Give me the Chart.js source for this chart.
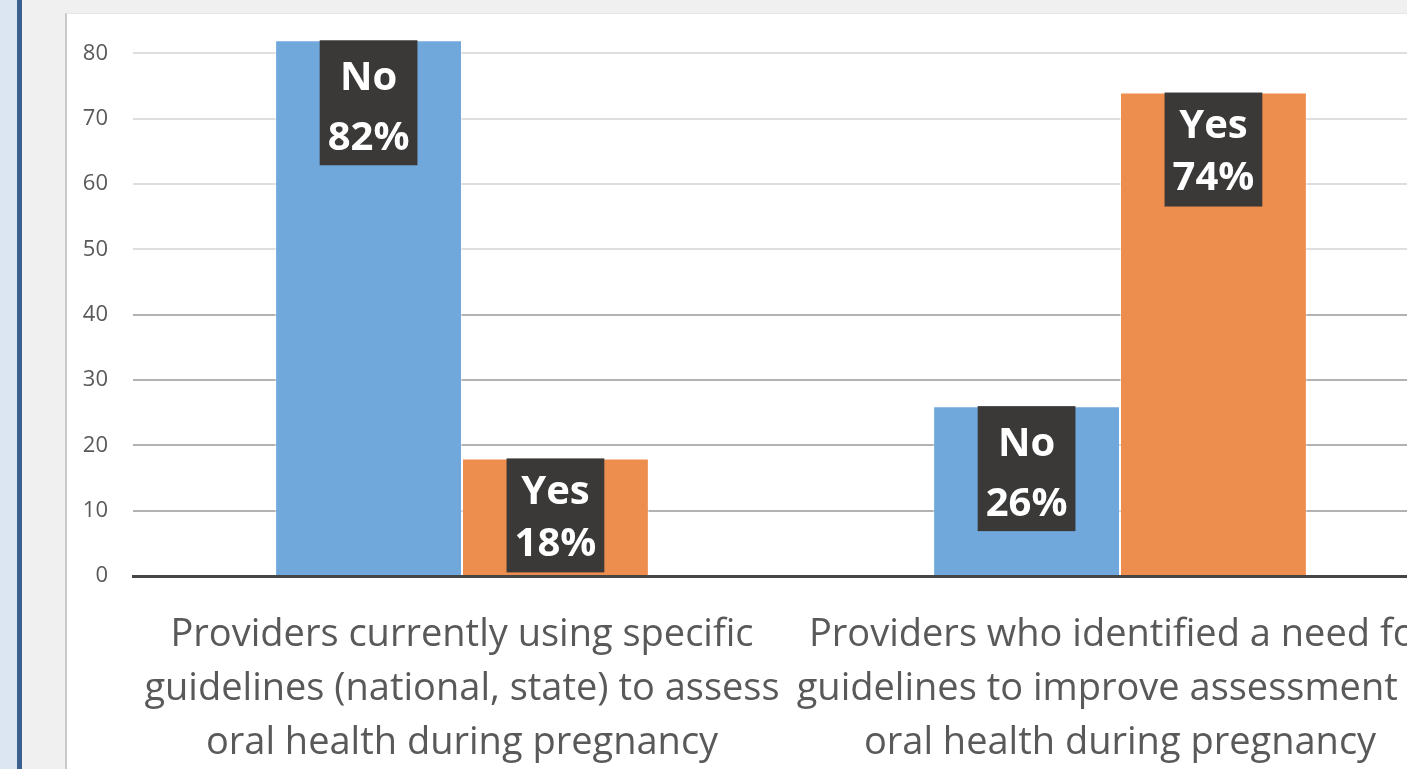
<!DOCTYPE html>
<html>
<head>
<meta charset="utf-8">
<script src="https://cdn.jsdelivr.net/npm/chart.js@4/dist/chart.umd.min.js"></script>
<style>
  html, body { margin: 0; padding: 0; width: 1407px; height: 769px; overflow: hidden; background: #f0f0f0; }
  #strip { position: absolute; left: 0; top: 0; width: 17px; height: 769px; background: #dce6f2; }
  #rule { position: absolute; left: 17px; top: 0; width: 5px; height: 769px; background: #3c5f92; }
  #frame { position: absolute; left: 65px; top: 13px; width: 1400px; height: 800px; background: #fff; border-left: 2px solid #c9c9c9; border-top: 1px solid #e6e6e6; overflow: hidden; }
  #wrap { position: absolute; left: 0; top: -54px; width: 1400px; height: 820px; }
</style>
</head>
<body>
<div id="strip"></div>
<div id="rule"></div>
<div id="frame">
  <div id="wrap"><canvas id="canvas1" width="1400" height="820"></canvas></div>
</div>
<script>
var categories = [
  ["Providers currently using specific", "guidelines (national, state) to assess", "oral health during pregnancy"],
  ["Providers who identified a need for", "guidelines to improve assessment of", "oral health during pregnancy"]
];
var seriesNames = ["No", "Yes"];
var noValues = [82, 26];
var yesValues = [18, 74];
var yTicks = [0, 10, 20, 30, 40, 50, 60, 70, 80, 90];

var FONT = "'Open Sans', Lato, sans-serif";

// boxed labels on top of each bar ("No / 82%")
var boxLabels = {
  id: 'boxLabels',
  afterDatasetsDraw: function(chart) {
    var ctx = chart.ctx;
    ctx.save();
    ctx.font = "bold 40px " + FONT;
    ctx.textAlign = 'center';
    ctx.textBaseline = 'middle';
    chart.data.datasets.forEach(function(ds, di) {
      chart.getDatasetMeta(di).data.forEach(function(bar, i) {
        var l1 = ds.label, l2 = ds.data[i] + '%';
        var w = Math.max(ctx.measureText(l1).width, ctx.measureText(l2).width) + 16;
        var h = di == 0 ? 125 : 114;
        ctx.fillStyle = '#3a3938';
        ctx.fillRect(bar.x - w / 2, bar.y, w, h);
        ctx.fillStyle = '#ffffff';
        ctx.fillText(l1, bar.x, bar.y + (di == 0 ? 38 : 34));
        ctx.fillText(l2, bar.x, bar.y + (di == 0 ? 98 : 86));
      });
    });
    ctx.restore();
  }
};

new Chart(document.getElementById("canvas1"), {
  type: 'bar',
  data: {
    labels: categories,
    datasets: [{
      label: seriesNames[0],
      data: noValues,
      backgroundColor: '#70a8dc',
      borderColor: 'rgba(255,255,255,0.5)',
      borderWidth: 1
    }, {
      label: seriesNames[1],
      data: yesValues,
      backgroundColor: '#ee8e4e',
      borderColor: 'rgba(255,255,255,0.5)',
      borderWidth: 1
    }]
  },
  options: {
    responsive: false,
    animation: false,
    layout: { padding: { top: 28, right: 18, left: 0, bottom: 0 } },
    plugins: { legend: { display: false }, tooltip: { enabled: false } },
    datasets: { bar: { categoryPercentage: 0.568, barPercentage: 1.0 } },
    scales: {
      x: {
        grid: { display: false, drawTicks: false },
        border: { display: true, color: '#454545', width: 3 },
        ticks: {
          color: '#595959',
          font: { family: FONT, size: 38, lineHeight: 1.42 },
          padding: 32,
          maxRotation: 0,
          autoSkip: false
        },
        afterFit: function(scale) {
          scale.height = 204;
          scale.paddingLeft = 0;
          scale.paddingRight = 0;
        }
      },
      y: {
        min: 0,
        max: 90,
        afterBuildTicks: function(scale) { scale.ticks = yTicks.map(function(v) { return { value: v }; }); },
        grid: {
          drawTicks: false,
          lineWidth: 2,
          color: function(c) { return c.tick && c.tick.value <= 40 ? '#b2b2b2' : '#dedede'; }
        },
        border: { display: false },
        ticks: {
          color: '#595959',
          font: { family: FONT, size: 22 },
          padding: 25
        },
        afterFit: function(scale) {
          scale.width = 66;
          scale.paddingTop = 0;
          scale.paddingBottom = 0;
        }
      }
    }
  },
  plugins: [boxLabels]
});
</script>
</body>
</html>
